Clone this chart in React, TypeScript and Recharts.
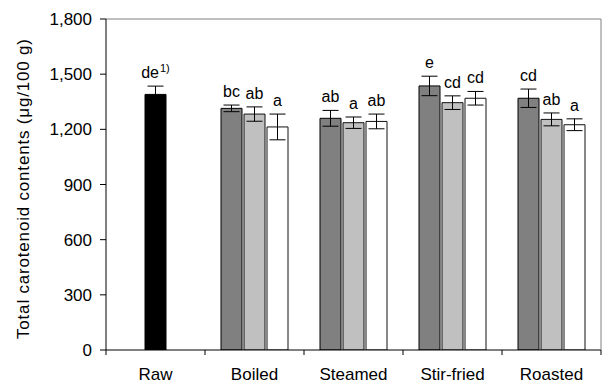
import React from "react";
import { BarChart, Bar, XAxis, YAxis, ErrorBar, Cell, LabelList, ReferenceLine } from "recharts";

if (typeof document !== "undefined") {
  document.body.style.margin = "0";
}

const categories = ["Raw", "Boiled", "Steamed", "Stir-fried", "Roasted"];
const darkValues = [null, 1314, 1260, 1436, 1369];
const darkErrors = [null, 18, 43, 53, 50];
const midValues = [1390, 1283, 1236, 1345, 1254];
const midErrors = [45, 39, 31, 37, 35];
const whiteValues = [null, 1213, 1243, 1369, 1225];
const whiteErrors = [null, 70, 40, 37, 32];
const darkLetters = ["", "bc", "ab", "e", "cd"];
const midLetters = ["de", "ab", "a", "cd", "ab"];
const whiteLetters = ["", "a", "ab", "cd", "a"];
const midSuperscripts = ["1)", "", "", "", ""];
const yTicks = [0, 300, 600, 900, 1200, 1500, 1800];

const FONT = "'Liberation Sans', Arial, sans-serif";

const data = categories.map((name, i) => ({
  name,
  idx: i,
  dark: darkValues[i],
  darkErr: darkErrors[i],
  mid: midValues[i],
  midErr: midErrors[i],
  white: whiteValues[i],
  whiteErr: whiteErrors[i],
}));

const makeLetterLabel =
  (letters: string[], values: (number | null)[], errs: (number | null)[], sups?: string[]) =>
  (props: any) => {
    const { x, y, width, height, value } = props;
    const index = Number(value);
    if (!Number.isFinite(index)) return null;
    const letter = letters[index];
    const v = values[index];
    const e = errs[index] || 0;
    if (!letter || v == null || !height) return null;
    const pxPerUnit = Math.abs(Number(height)) / v;
    const errPx = e * pxPerUnit;
    const cx = Number(x) + Number(width) / 2;
    const ty = Number(y) - errPx - 8;
    const sup = sups ? sups[index] : "";
    return (
      <text x={cx} y={ty} textAnchor="middle" fontSize={16} fontFamily={FONT} fill="#000">
        {letter}
        {sup ? (
          <tspan fontSize={11} dx={1} dy={-6}>
            {sup}
          </tspan>
        ) : null}
      </text>
    );
  };

const CatTick = (props: any) => {
  const { x, y, payload, index, width } = props;
  const half = payload && payload.offset ? payload.offset : width / categories.length / 2;
  const isLast = index === categories.length - 1;
  return (
    <g>
      <line x1={x - half} y1={y} x2={x - half} y2={y + 5} stroke="#000" />
      {isLast ? <line x1={x + half} y1={y} x2={x + half} y2={y + 5} stroke="#000" /> : null}
      <text x={x} y={y + 30} textAnchor="middle" fontSize={17} fontFamily={FONT} fill="#000">
        {payload.value}
      </text>
    </g>
  );
};

const YLabel = () => {
  const cx = 29;
  const cy = 189;
  return (
    <text
      x={cx}
      y={cy}
      transform={`rotate(-90, ${cx}, ${cy})`}
      textAnchor="middle"
      fontSize={17}
      fontFamily={FONT}
      fill="#000"
      textLength={300}
      lengthAdjust="spacing"
    >
      Total carotenoid contents (μg/100 g)
    </text>
  );
};

const idxKey = (row: any) => row.idx;

export default function App() {
  return (
    <BarChart
      width={604}
      height={383}
      data={data}
      margin={{ top: 19, right: 0, bottom: 0, left: 0 }}
      barCategoryGap={16}
      barGap={2}
    >
      <XAxis
        dataKey="name"
        height={33}
        tickLine={false}
        tickSize={0}
        tickMargin={0}
        axisLine={{ stroke: "#000" }}
        tick={<CatTick />}
        interval={0}
      />
      <YAxis
        yAxisId="left"
        width={106}
        domain={[0, 1800]}
        ticks={yTicks}
        tickSize={6}
        tickMargin={8}
        tickLine={{ stroke: "#000" }}
        axisLine={{ stroke: "#000" }}
        tick={{ fill: "#000", fontSize: 17, fontFamily: FONT }}
        tickFormatter={(v: number) => v.toLocaleString("en-US")}
        label={<YLabel />}
        allowDataOverflow
      />
      <YAxis
        yAxisId="right"
        orientation="right"
        width={3}
        domain={[0, 1800]}
        tick={false}
        tickLine={false}
        axisLine={{ stroke: "#808080" }}
      />
      <ReferenceLine yAxisId="left" y={1800} stroke="#808080" />
      <Bar yAxisId="left" dataKey="dark" fill="#808080" stroke="#000" strokeWidth={1} isAnimationActive={false}>
        <ErrorBar dataKey="darkErr" width={8} stroke="#000" strokeWidth={1} direction="y" />
        <LabelList dataKey={idxKey} content={makeLetterLabel(darkLetters, darkValues, darkErrors)} />
      </Bar>
      <Bar yAxisId="left" dataKey="mid" fill="#c0c0c0" stroke="#111" strokeWidth={1} isAnimationActive={false}>
        {data.map((d, i) => (
          <Cell
            key={d.name}
            fill={i === 0 ? "#000000" : "#c0c0c0"}
            stroke={i === 0 ? "#000000" : "#111"}
          />
        ))}
        <ErrorBar dataKey="midErr" width={8} stroke="#000" strokeWidth={1} direction="y" />
        <LabelList dataKey={idxKey} content={makeLetterLabel(midLetters, midValues, midErrors, midSuperscripts)} />
      </Bar>
      <Bar yAxisId="left" dataKey="white" fill="#ffffff" stroke="#111" strokeWidth={1} isAnimationActive={false}>
        <ErrorBar dataKey="whiteErr" width={8} stroke="#000" strokeWidth={1} direction="y" />
        <LabelList dataKey={idxKey} content={makeLetterLabel(whiteLetters, whiteValues, whiteErrors)} />
      </Bar>
    </BarChart>
  );
}
